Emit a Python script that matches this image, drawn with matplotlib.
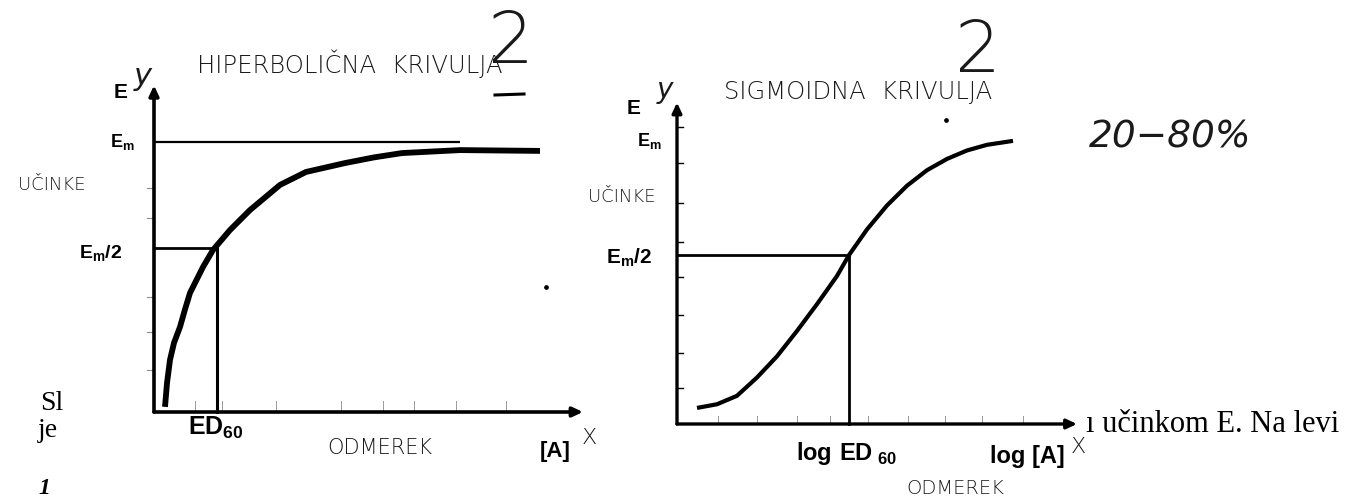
import matplotlib
matplotlib.use("Agg")
import matplotlib.pyplot as plt

W, H = 1367, 501

# ---------------- data ----------------
# Left panel: hyperbolic dose-response (dose in arbitrary units, effect in % of Em)
hyp_dose = [1.1, 1.3, 1.6, 2.0, 2.6, 3.1, 3.6, 4.9, 5.9, 7.6, 9.6, 12.6, 15.2, 19.1, 22.0, 24.8, 30.6, 38.6]
hyp_effect = [1.9, 10.7, 19.3, 25.6, 31.5, 38.0, 44.1, 53.7, 60.0, 67.4, 74.8, 84.1, 88.9, 92.2, 94.3, 95.9, 97.0, 96.7]
hyp_em = 100.0
hyp_half = 60.7
hyp_ed50 = 6.3
hyp_em_line_end = 30.6
hyp_x_end = 42.9
hyp_y_end = 121.0
hyp_xmarks = [4.1, 6.8, 12.2, 18.7, 22.9, 26.0, 30.2, 35.2]
hyp_ymarks = [15.6, 29.6, 42.6, 72.0, 83.0]

# Right panel: sigmoid log dose-response
sig_logdose = [2.0, 4.0, 6.0, 8.0, 10.0, 12.0, 14.0, 16.0, 17.2, 19.0, 21.0, 23.0, 25.0, 27.0, 29.0, 31.0, 33.6]
sig_effect = [5.7, 7.0, 10.0, 16.5, 24.0, 33.0, 42.5, 52.5, 59.9, 69.0, 77.5, 84.5, 90.0, 94.0, 97.0, 99.0, 100.4]
sig_em = 100.0
sig_half = 59.9
sig_ed50 = 17.2
sig_x_end = 40.0
sig_y_end = 114.0
sig_yticks = [12.8, 25.2, 38.7, 52.1, 64.5, 78.4, 92.6, 105.3]
sig_xmarks = [4.1, 8.0, 12.0, 15.3, 19.1, 23.1, 26.8, 30.5, 34.6]

plt.rcParams['mathtext.fontset'] = 'custom'
plt.rcParams['mathtext.bf'] = 'Liberation Sans:bold'
plt.rcParams['mathtext.rm'] = 'Liberation Sans'

fig = plt.figure(figsize=(W / 100, H / 100), dpi=100)
fig.patch.set_facecolor('white')


def panel_axes(x0px, y0px, sx, sy):
    ax = fig.add_axes([0, 0, 1, 1])
    ax.set_xlim(-x0px / sx, (W - x0px) / sx)
    ax.set_ylim(-(H - y0px) / sy, y0px / sy)
    ax.axis('off')
    ax.patch.set_visible(False)
    return ax


def arrow_axes(ax, x_end, y_end, lw):
    ap = dict(arrowstyle='-|>,head_width=0.28,head_length=0.6', lw=lw, color='black',
              shrinkA=0, shrinkB=0)
    ax.annotate('', xy=(x_end, 0), xytext=(0, 0), arrowprops=ap, annotation_clip=False)
    ax.annotate('', xy=(0, y_end), xytext=(0, 0), arrowprops=ap, annotation_clip=False)


HAND = dict(family='DejaVu Sans', fontweight=200, color='#1a1a1a')
BOLD = dict(family='Liberation Sans', fontweight='bold', color='black')
SERIF = dict(family='Liberation Serif', color='black')

# ---------------- left panel ----------------
axL = panel_axes(154, 412, 10.0, 2.7)
arrow_axes(axL, hyp_x_end, hyp_y_end, 2.6)
axL.plot([0, hyp_em_line_end], [hyp_em, hyp_em], color='black', lw=1.6, solid_capstyle='butt')
axL.plot([0, hyp_ed50], [hyp_half, hyp_half], color='black', lw=2.0)
axL.plot([hyp_ed50, hyp_ed50], [0, hyp_half], color='black', lw=2.2)
axL.plot(hyp_dose, hyp_effect, color='black', lw=4.2, solid_capstyle='butt', solid_joinstyle='round')
for xm in hyp_xmarks:
    axL.plot([xm, xm], [0.5, 4.0], color='#9a9a9a', lw=0.7)
for ym in hyp_ymarks:
    axL.plot([-0.7, 0], [ym, ym], color='#8a8a8a', lw=0.8)

axL.text(-3.2, 100, r'$\mathbf{E_m}$', fontsize=13, ha='center', va='center', color='black')
axL.text(-5.3, 59.0, r'$\mathbf{E_m/2}$', fontsize=14, ha='center', va='center', color='black')
axL.text(-3.3, 118.5, 'E', fontsize=15, ha='center', va='center', **BOLD)
axL.text(hyp_ed50 - 0.1, -6.0, r'$\mathbf{ED}_{\mathbf{60}}$', fontsize=18, ha='center', va='center', color='black')
axL.text(40.1, -14.8, '[A]', fontsize=16, ha='center', va='center', **BOLD)

# ---------------- right panel ----------------
axR = panel_axes(677, 424, 10.0, 2.82)
arrow_axes(axR, sig_x_end, sig_y_end, 2.4)
axR.plot([0, sig_ed50], [sig_half, sig_half], color='black', lw=2.0)
axR.plot([sig_ed50, sig_ed50], [0, sig_half], color='black', lw=2.0)
axR.plot(sig_logdose, sig_effect, color='black', lw=3.0, solid_capstyle='butt', solid_joinstyle='round')
for yt in sig_yticks:
    axR.plot([0, 0.6], [yt, yt], color='black', lw=1.0)
for xm in sig_xmarks:
    axR.plot([xm, xm], [0.5, 3.0], color='#9a9a9a', lw=0.7)

axR.text(-2.8, 100.5, r'$\mathbf{E_m}$', fontsize=13, ha='center', va='center', color='black')
axR.text(-4.8, 59.0, r'$\mathbf{E_m/2}$', fontsize=15, ha='center', va='center', color='black')
axR.text(-4.3, 112, 'E', fontsize=15, ha='center', va='center', **BOLD)
axR.text(sig_ed50 - 0.2, -10.3, r'$\mathbf{log\ ED}_{\ \mathbf{60}}$', fontsize=17, ha='center', va='center', color='black')
axR.text(35.0, -11.7, 'log [A]', fontsize=17, ha='center', va='center', **BOLD)

# ---------------- page annotations (pixel coordinates) ----------------
page = fig.add_axes([0, 0, 1, 1])
page.set_xlim(0, W)
page.set_ylim(H, 0)
page.axis('off')
page.patch.set_visible(False)

page.text(350, 64, 'HIPERBOLIČNA  KRIVULJA', fontsize=17.5, ha='center', va='center', **HAND)
page.text(511, 43, '2', fontsize=52, ha='center', va='center', **HAND)
page.plot([495, 524], [95, 94], color='black', lw=2.2)
page.text(143, 76, 'y', fontsize=22, ha='center', va='center', style='italic', **HAND)
page.text(52, 185, 'UČINKE', fontsize=13, ha='center', va='center', **HAND)
page.text(380, 448, 'ODMEREK', fontsize=15, ha='center', va='center', **HAND)
page.text(589, 438, 'X', fontsize=16, ha='center', va='center', **HAND)

page.text(858, 92, 'SIGMOIDNA  KRIVULJA', fontsize=17.5, ha='center', va='center', **HAND)
page.text(978, 52, '2', fontsize=52, ha='center', va='center', **HAND)
page.text(665, 90, 'y', fontsize=20, ha='center', va='center', style='italic', **HAND)
page.text(622, 197, 'UČINKE', fontsize=13, ha='center', va='center', **HAND)
page.text(1170, 138, '20−80%', fontsize=27, ha='center', va='center', style='italic', **HAND)
page.text(955, 489, 'ODMEREK', fontsize=14, ha='center', va='center', **HAND)
page.text(1078, 447, 'X', fontsize=16, ha='center', va='center', **HAND)

page.text(40, 410, 'Sl', fontsize=20, ha='left', va='baseline', **SERIF)
page.text(38, 437, 'je', fontsize=20, ha='left', va='baseline', **SERIF)
page.text(38, 494, '1', fontsize=17, ha='left', va='baseline', style='italic', fontweight='bold', family='Liberation Serif')
page.text(1086, 432, 'ı učinkom E. Na levi', fontsize=22, ha='left', va='baseline', **SERIF)

for (dx, dy) in [(546, 287), (946, 120)]:
    page.plot([dx], [dy], 'o', color='black', ms=2.4)

fig.savefig('out.png', dpi=100, facecolor='white')
